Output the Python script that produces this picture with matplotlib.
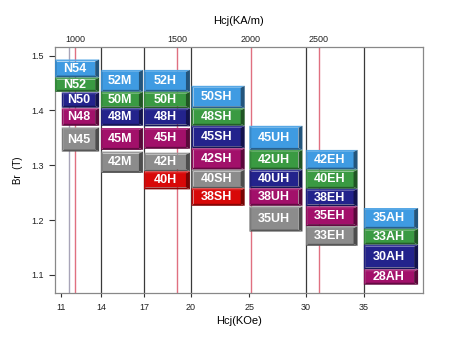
import numpy as np
import matplotlib
matplotlib.use("Agg")
import matplotlib.pyplot as plt
import matplotlib.colors as mcolors
from matplotlib.patches import Polygon

plt.rcParams['font.family'] = ['Liberation Sans', 'DejaVu Sans']

# grades, Br range (T) and Hcj range (kOe) of each box
grades = ["N54", "N52", "N50", "N48", "N45",
          "52M", "50M", "48M", "45M", "42M",
          "52H", "50H", "48H", "45H", "42H", "40H",
          "50SH", "48SH", "45SH", "42SH", "40SH", "38SH",
          "45UH", "42UH", "40UH", "38UH", "35UH",
          "42EH", "40EH", "38EH", "35EH", "33EH",
          "35AH", "33AH", "30AH", "28AH"]
br_top = [1.493, 1.460, 1.433, 1.404, 1.369,
          1.474, 1.434, 1.404, 1.368, 1.325,
          1.474, 1.434, 1.404, 1.368, 1.323, 1.289,
          1.445, 1.404, 1.372, 1.331, 1.292, 1.258,
          1.372, 1.328, 1.292, 1.258, 1.225,
          1.328, 1.292, 1.257, 1.225, 1.189,
          1.222, 1.184, 1.155, 1.110]
br_bottom = [1.460, 1.434, 1.405, 1.372, 1.325,
             1.434, 1.404, 1.372, 1.328, 1.286,
             1.434, 1.404, 1.371, 1.330, 1.289, 1.256,
             1.404, 1.372, 1.331, 1.292, 1.258, 1.226,
             1.328, 1.292, 1.258, 1.226, 1.179,
             1.292, 1.257, 1.225, 1.189, 1.153,
             1.184, 1.155, 1.110, 1.082]
hcj_low = [10.5, 10.5, 11.1, 11.1, 11.1,
           14, 14, 14, 14, 14,
           17, 17, 17, 17, 17, 17,
           20.05, 20.05, 20.05, 20.05, 20.05, 20.05,
           25.0, 25.0, 25.0, 25.0, 25.0,
           30, 30, 30, 30, 30,
           35, 35, 35, 35]
hcj_high = [13.9] * 5 + [16.93] * 5 + [19.92] * 6 + [24.6] * 6 + \
           [29.7] * 5 + [34.5] * 5 + [39.6] * 4
shades = ["blue", "green", "navy", "magenta", "gray",
          "blue", "green", "navy", "magenta", "gray",
          "blue", "green", "navy", "magenta", "gray", "red",
          "blue", "green", "navy", "magenta", "gray", "red",
          "blue", "green", "navy", "magenta", "gray",
          "blue", "green", "navy", "magenta", "gray",
          "blue", "green", "navy", "magenta"]

palette = {"blue": "#3f9be2", "green": "#3a9a42", "navy": "#23238c",
           "magenta": "#a2106a", "gray": "#8c8c8c", "red": "#d80808"}

# axis ticks and reference lines
koe_ticks = [11, 14, 17, 20, 25, 30, 35]
grade_lines = [14, 17, 20, 30, 35]
kam_ticks = [1000, 1500, 2000, 2500]
KAM_PER_KOE = 79.577

# the original horizontal axis is not linear: piecewise mapping
scale_koe = [10.5, 11, 12, 12.566, 14, 17, 18.85, 20, 25.13, 30, 31.42, 35, 40]
scale_pos = [55, 61, 69, 75, 101, 144, 177, 191, 251, 306, 319, 364, 423]


def fwd(x):
    x = np.asarray(x, dtype=float)
    y = np.interp(x, scale_koe, scale_pos)
    lo = x < scale_koe[0]
    hi = x > scale_koe[-1]
    y = np.where(lo, scale_pos[0] + (x - scale_koe[0]) * 12, y)
    y = np.where(hi, scale_pos[-1] + (x - scale_koe[-1]) * 12, y)
    return y


def inv(y):
    y = np.asarray(y, dtype=float)
    x = np.interp(y, scale_pos, scale_koe)
    lo = y < scale_pos[0]
    hi = y > scale_pos[-1]
    x = np.where(lo, scale_koe[0] + (y - scale_pos[0]) / 12, x)
    x = np.where(hi, scale_koe[-1] + (y - scale_pos[-1]) / 12, x)
    return x


def shade(c, f):
    rgb = np.array(mcolors.to_rgb(c))
    if f > 1:
        rgb = rgb + (1 - rgb) * (f - 1)
    else:
        rgb = rgb * f
    return np.clip(rgb, 0, 1)


fig = plt.figure(figsize=(4.74, 3.5), dpi=100)
ax = fig.add_axes([0.116, 0.163, 0.776, 0.703])
ax.set_xscale('function', functions=(fwd, inv))
ax.set_xlim(10.5, 40)
ax.set_ylim(1.067, 1.516)

# vertical reference lines
ax.axvline(12, color='#a8a4b8', lw=1.0, zorder=1)
for v in grade_lines:
    ax.axvline(v, color='#3a3a3a', lw=0.9, zorder=1)
for k in kam_ticks:
    ax.axvline(k / KAM_PER_KOE, color='#e07080', lw=1.0, zorder=1)

# beveled boxes
to_axes = ax.transData + ax.transAxes.inverted()
ax_w = fig.get_figwidth() * fig.dpi * 0.776
ax_h = fig.get_figheight() * fig.dpi * 0.703
bx, bxr, by = 2.0 / ax_w, 4.0 / ax_w, 2.0 / ax_h

for g, t, b, lo, hi, s in zip(grades, br_top, br_bottom, hcj_low, hcj_high, shades):
    c = palette[s]
    x0, y0 = to_axes.transform((lo, b))
    x1, y1 = to_axes.transform((hi, t))
    pieces = [
        ([(x0 + bx, y0 + by), (x1 - bxr, y0 + by), (x1 - bxr, y1 - by), (x0 + bx, y1 - by)], shade(c, 1.0)),
        ([(x0, y1), (x1, y1), (x1 - bxr, y1 - by), (x0 + bx, y1 - by)], shade(c, 1.12)),
        ([(x0, y0), (x1, y0), (x1 - bxr, y0 + by), (x0 + bx, y0 + by)], shade(c, 0.62)),
        ([(x0, y0), (x0 + bx, y0 + by), (x0 + bx, y1 - by), (x0, y1)], shade(c, 0.88)),
        ([(x1, y0), (x1 - bxr, y0 + by), (x1 - bxr, y1 - by), (x1, y1)], shade(c, 0.55)),
    ]
    for pts, col in pieces:
        ax.add_patch(Polygon(pts, closed=True, facecolor=col, edgecolor='none',
                             transform=ax.transAxes, zorder=3))
    ax.text((x0 + x1) / 2 - bxr / 2, (y0 + y1) / 2, g, transform=ax.transAxes,
            ha='center', va='center', color='white', fontsize=9,
            fontweight='bold', zorder=4)

# axes styling
for sp in ax.spines.values():
    sp.set_color('#888888')
    sp.set_linewidth(0.9)
ax.set_yticks([1.1, 1.2, 1.3, 1.4, 1.5])
ax.set_yticklabels(['1.1', '1.2', '1.3', '1.4', '1.5'])
ax.set_xticks(koe_ticks)
ax.set_xticklabels([str(v) for v in koe_ticks])
ax.xaxis.set_minor_locator(matplotlib.ticker.NullLocator())
ax.tick_params(axis='y', length=4, width=0.8, color='#333333', labelsize=6.5,
               labelcolor='#222222', pad=4)
ax.tick_params(axis='x', length=3, width=0.8, color='#333333', labelsize=6.5,
               labelcolor='#222222', pad=4)
ax.set_xlabel('Hcj(KOe)', fontsize=8, labelpad=3)
ax.set_ylabel('Br  (T)', fontsize=7, labelpad=6)

top = ax.twiny()
top.set_xscale('function', functions=(fwd, inv))
top.set_xlim(ax.get_xlim())
top.set_xticks([k / KAM_PER_KOE for k in kam_ticks])
top.set_xticklabels([str(k) for k in kam_ticks])
top.xaxis.set_minor_locator(matplotlib.ticker.NullLocator())
top.tick_params(axis='x', length=0, labelsize=6.5, labelcolor='#222222', pad=2)
top.set_xlabel('Hcj(KA/m)', fontsize=8, labelpad=8)
for sp in top.spines.values():
    sp.set_visible(False)

fig.savefig('out.png', dpi=100)
